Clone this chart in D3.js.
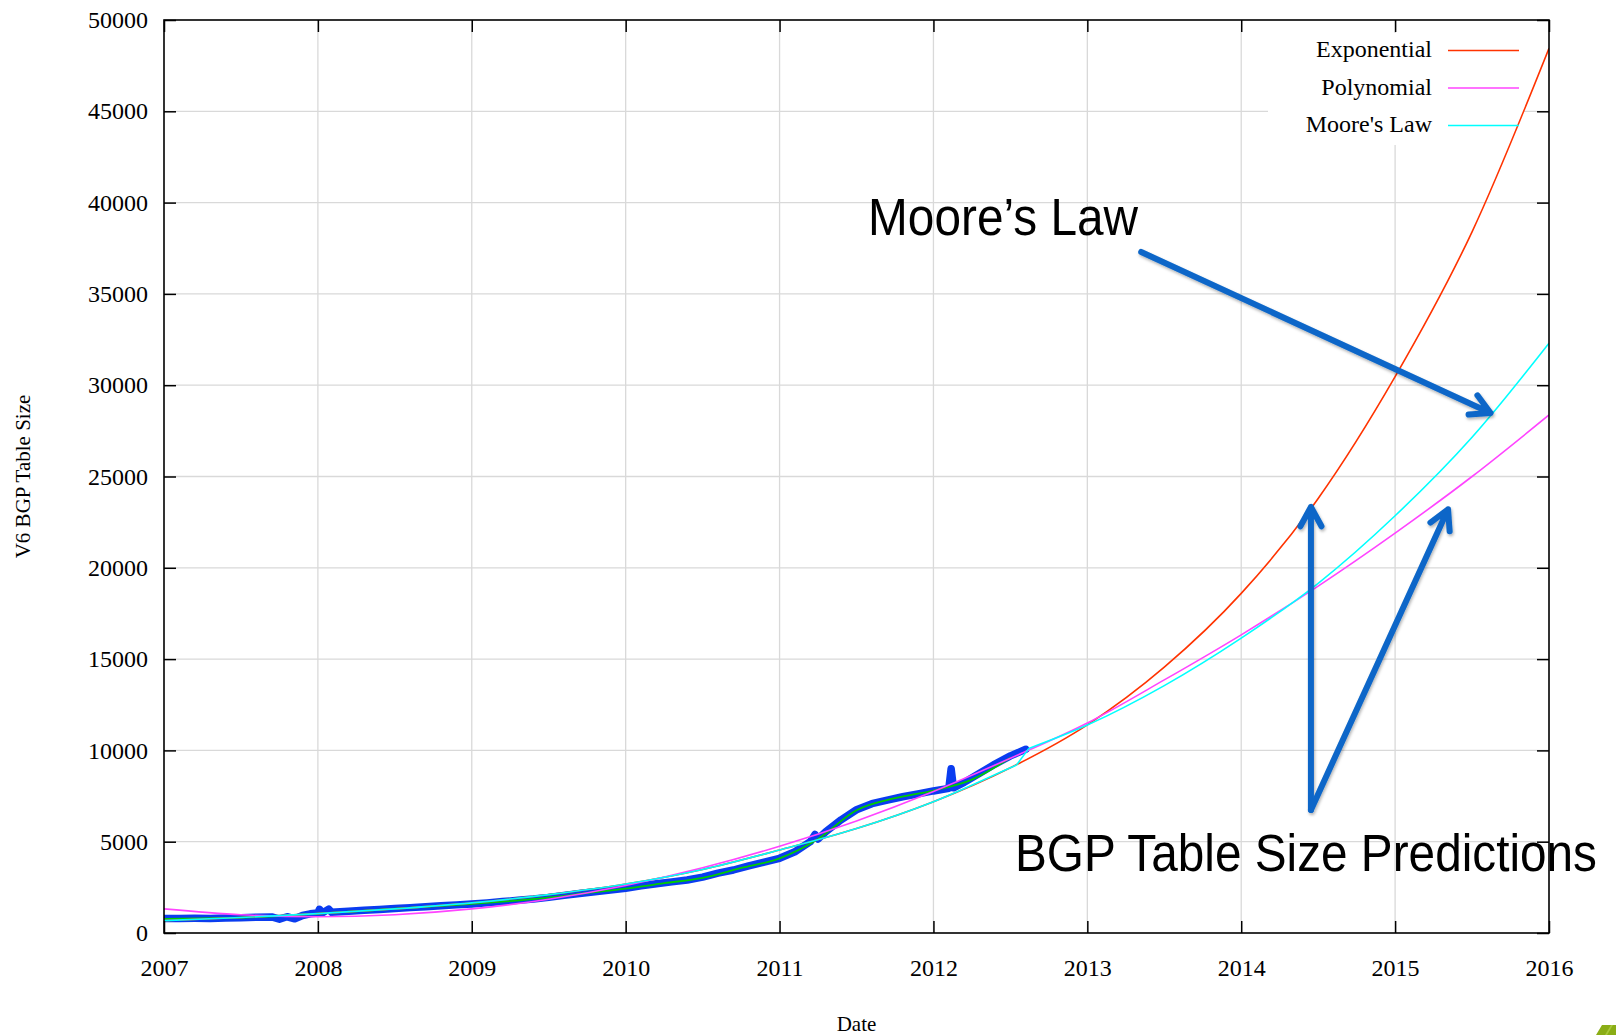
<!DOCTYPE html>
<html>
<head>
<meta charset="utf-8">
<script src="https://cdn.jsdelivr.net/npm/d3@7"></script>
<style>
  html, body { margin: 0; padding: 0; background: #fff; }
  svg { display: block; }
</style>
</head>
<body>
<svg id="chart" width="1616" height="1035"></svg>
<script>
// ---------- data ----------
const xTicks = [2007, 2008, 2009, 2010, 2011, 2012, 2013, 2014, 2015, 2016];
const yTicks = [0, 5000, 10000, 15000, 20000, 25000, 30000, 35000, 40000, 45000, 50000];

const dataYears = [2007.0, 2007.1, 2007.2, 2007.3, 2007.4, 2007.5, 2007.6, 2007.7, 2007.75, 2007.8, 2007.85, 2007.9, 2007.95,
  2008.0, 2008.01, 2008.03, 2008.07, 2008.09, 2008.2, 2008.3, 2008.4, 2008.5, 2008.6, 2008.7, 2008.8, 2008.9,
  2009.0, 2009.1, 2009.2, 2009.3, 2009.4, 2009.5, 2009.6, 2009.7, 2009.8, 2009.9,
  2010.0, 2010.1, 2010.2, 2010.3, 2010.4, 2010.5, 2010.6, 2010.7, 2010.8, 2010.9,
  2011.0, 2011.1, 2011.2, 2011.23, 2011.25, 2011.3, 2011.4, 2011.5, 2011.6, 2011.7, 2011.8, 2011.9,
  2012.0, 2012.1, 2012.115, 2012.13, 2012.2, 2012.3, 2012.4, 2012.5, 2012.6];
const dataValues = [790, 800, 805, 800, 820, 840, 860, 880, 760, 890, 780, 960, 1050,
  1090, 1300, 1100, 1310, 1130, 1190, 1240, 1290, 1340, 1390, 1440, 1490, 1540,
  1590, 1650, 1720, 1790, 1860, 1950, 2060, 2160, 2260, 2350,
  2450, 2580, 2700, 2800, 2900, 3060, 3280, 3450, 3680, 3880,
  4090, 4450, 5000, 5400, 5150, 5550, 6200, 6750, 7080, 7280, 7460, 7620,
  7780, 7920, 9000, 7950, 8250, 8750, 9250, 9700, 10060];

const trendYears = [2007, 2007.25, 2007.5, 2007.75, 2008, 2008.25, 2008.5, 2008.75, 2009, 2009.25, 2009.5, 2009.75,
  2010, 2010.25, 2010.5, 2010.75, 2011, 2011.25, 2011.5, 2011.75, 2012, 2012.25, 2012.5];
const trendValues = [770, 800, 845, 920, 1060, 1190, 1330, 1460, 1590, 1750, 1940, 2190,
  2430, 2730, 3020, 3560, 4090, 5150, 6720, 7380, 7800, 8400, 9600];

const expYears = [2007, 2007.5, 2008, 2008.5, 2009, 2009.5, 2010, 2010.5, 2011, 2011.5, 2012, 2012.5,
  2013, 2013.5, 2014, 2014.5, 2015, 2015.5, 2016];
const expValues = [680, 850, 1060, 1320, 1650, 2100, 2680, 3480, 4545, 5720, 7190, 9050,
  11400, 14560, 18600, 23800, 30470, 38400, 48450];

const polyYears = [2007, 2007.5, 2008, 2008.5, 2009, 2009.5, 2010, 2010.5, 2011, 2011.5, 2012, 2012.5,
  2013, 2013.5, 2014, 2014.5, 2015, 2015.5, 2016];
const polyValues = [1320, 1000, 890, 1000, 1320, 1850, 2600, 3570, 4750, 6140, 7750, 9570,
  11500, 13860, 16330, 19000, 21900, 25000, 28370];

// Moore's Law: fitted part (to end of data) and projection (from last data point)
const mooreFitYears = [2007, 2007.5, 2008, 2008.5, 2009, 2009.5, 2010, 2010.5, 2011, 2011.5, 2012, 2012.5, 2012.54];
const mooreFitValues = [680, 850, 1060, 1320, 1650, 2100, 2680, 3480, 4545, 5720, 7190, 9050, 9200];
const mooreProjYears = [2012.62, 2013, 2013.5, 2014, 2014.5, 2015, 2015.5, 2016];
const mooreProjValues = [10110, 11390, 13550, 16150, 19150, 22850, 27150, 32300];

const legendLabels = ["Exponential", "Polynomial", "Moore's Law"];
const legendColors = ["#ff3300", "#ff44ff", "#00ffff"];

const xLabel = "Date";
const yLabel = "V6 BGP Table Size";

// annotations (in data units)
const annoMoore = { text: "Moore\u2019s Law", x: 2011.575, y: 38225 };
const annoBGP = { text: "BGP Table Size Predictions", x: 2012.53, y: 3395 };
const arrows = [
  { x1: 2013.35, y1: 37295, x2: 2015.62, y2: 28480 },
  { x1: 2014.453, y1: 6740, x2: 2014.453, y2: 23330 },
  { x1: 2014.453, y1: 6740, x2: 2015.344, y2: 23200 }
];

// ---------- layout ----------
const L = 164, R = 1549, T = 20, B = 933;
const svg = d3.select("#chart");
const x = d3.scaleLinear().domain([2007, 2016]).range([L, R]);
const y = d3.scaleLinear().domain([0, 50000]).range([B, T]);

const serif = "'Liberation Serif', 'Times New Roman', serif";
const sans = "'Liberation Sans', Arial, Helvetica, sans-serif";

svg.append("rect").attr("width", 1616).attr("height", 1035).attr("fill", "#fff");

// defs
const defs = svg.append("defs");
const f = defs.append("filter").attr("id", "shadow").attr("x", "-20%").attr("y", "-20%").attr("width", "140%").attr("height", "140%");
f.append("feDropShadow").attr("dx", 1).attr("dy", 2).attr("stdDeviation", 1.5).attr("flood-color", "#000").attr("flood-opacity", 0.3);
defs.append("clipPath").attr("id", "plotclip").append("rect")
  .attr("x", L).attr("y", T).attr("width", R - L).attr("height", B - T);

// grid
const grid = svg.append("g").attr("stroke", "#d9d9d9").attr("stroke-width", 1.3);
grid.selectAll("line.gx").data(xTicks.slice(1, -1)).join("line")
  .attr("x1", d => x(d)).attr("x2", d => x(d)).attr("y1", T).attr("y2", B);
grid.selectAll("line.gy").data(yTicks.slice(1, -1)).join("line")
  .attr("x1", L).attr("x2", R).attr("y1", d => y(d)).attr("y2", d => y(d));

// legend background (opaque key box)
svg.append("rect").attr("x", 1268).attr("y", 33).attr("width", 256).attr("height", 112).attr("fill", "#fff");

// plot group
const plot = svg.append("g").attr("clip-path", "url(#plotclip)");
const pts = (xs, ys) => xs.map((v, i) => [v, ys[i]]);

const lineLin = d3.line().x(d => x(d[0])).y(d => y(d[1]));
const lineSmooth = d3.line().x(d => x(d[0])).y(d => y(d[1])).curve(d3.curveMonotoneX);

// data
plot.append("path").datum(pts(dataYears, dataValues))
  .attr("d", lineLin).attr("fill", "none").attr("stroke", "#0a3cf0")
  .attr("stroke-width", 7.5).attr("stroke-linecap", "round").attr("stroke-linejoin", "round");
plot.append("path").datum(pts(trendYears, trendValues))
  .attr("d", lineSmooth).attr("fill", "none").attr("stroke", "#00cc00").attr("stroke-width", 1.8);

// fits
plot.append("path").datum(pts(expYears, expValues))
  .attr("d", lineSmooth).attr("fill", "none").attr("stroke", legendColors[0]).attr("stroke-width", 1.6);
plot.append("path").datum(pts(polyYears, polyValues))
  .attr("d", lineSmooth).attr("fill", "none").attr("stroke", legendColors[1]).attr("stroke-width", 1.6);
const mooreFit = pts(mooreFitYears, mooreFitValues);
const mooreProj = pts(mooreProjYears, mooreProjValues);
plot.append("path").datum(mooreFit)
  .attr("d", lineSmooth).attr("fill", "none").attr("stroke", legendColors[2]).attr("stroke-width", 1.6);
plot.append("path").datum([mooreFit[mooreFit.length - 1], mooreProj[0]])
  .attr("d", lineLin).attr("fill", "none").attr("stroke", legendColors[2]).attr("stroke-width", 1.6);
plot.append("path").datum(mooreProj)
  .attr("d", lineSmooth).attr("fill", "none").attr("stroke", legendColors[2]).attr("stroke-width", 1.6);

// axes
const fmt = d3.format("d");
const gx = svg.append("g").attr("transform", `translate(0,${B})`)
  .call(d3.axisBottom(x).tickValues(xTicks).tickFormat(fmt).tickSize(-12).tickPadding(26));
const gy = svg.append("g").attr("transform", `translate(${L},0)`)
  .call(d3.axisLeft(y).tickValues(yTicks).tickFormat(fmt).tickSize(-12).tickPadding(16));
const gt = svg.append("g").attr("transform", `translate(0,${T})`)
  .call(d3.axisTop(x).tickValues(xTicks).tickFormat("").tickSize(-12));
const gr = svg.append("g").attr("transform", `translate(${R},0)`)
  .call(d3.axisRight(y).tickValues(yTicks).tickFormat("").tickSize(-12));
[gx, gy, gt, gr].forEach(g => {
  g.select(".domain").remove();
  g.selectAll(".tick line").attr("stroke", "#000").attr("stroke-width", 1.5);
  g.selectAll("text").attr("font-family", serif).attr("font-size", 24).attr("fill", "#000");
});

// border
svg.append("rect").attr("x", L).attr("y", T).attr("width", R - L).attr("height", B - T)
  .attr("fill", "none").attr("stroke", "#000").attr("stroke-width", 1.6);

// axis titles
svg.append("text").attr("x", (L + R) / 2).attr("y", 1031).attr("text-anchor", "middle")
  .attr("font-family", serif).attr("font-size", 21).text(xLabel);
svg.append("text").attr("transform", `translate(30,${(T + B) / 2}) rotate(-90)`).attr("text-anchor", "middle")
  .attr("font-family", serif).attr("font-size", 21).text(yLabel);

// legend
const legY = [49.5, 87, 124.5];
const leg = svg.append("g");
legendLabels.forEach((lab, i) => {
  leg.append("text").attr("x", 1432).attr("y", legY[i]).attr("dy", "0.32em").attr("text-anchor", "end")
    .attr("font-family", serif).attr("font-size", 24).text(lab);
  leg.append("line").attr("x1", 1448).attr("x2", 1519).attr("y1", legY[i] + 1).attr("y2", legY[i] + 1)
    .attr("stroke", legendColors[i]).attr("stroke-width", 1.6);
});

// annotations
svg.append("text").attr("x", x(annoMoore.x)).attr("y", y(annoMoore.y))
  .attr("font-family", sans).attr("font-size", 51).attr("textLength", 270).attr("lengthAdjust", "spacingAndGlyphs")
  .text(annoMoore.text);
svg.append("text").attr("x", x(annoBGP.x)).attr("y", y(annoBGP.y))
  .attr("font-family", sans).attr("font-size", 51).attr("textLength", 582).attr("lengthAdjust", "spacingAndGlyphs")
  .text(annoBGP.text);

const arrowG = svg.append("g").attr("filter", "url(#shadow)").attr("stroke", "#0a66c8").attr("stroke-width", 6)
  .attr("fill", "none").attr("stroke-linecap", "round").attr("stroke-linejoin", "round");
arrows.forEach(a => {
  const X1 = x(a.x1), Y1 = y(a.y1), X2 = x(a.x2), Y2 = y(a.y2);
  const ang = Math.atan2(Y2 - Y1, X2 - X1);
  const len = 22, spread = 0.5;
  const p1 = [X2 - len * Math.cos(ang - spread), Y2 - len * Math.sin(ang - spread)];
  const p2 = [X2 - len * Math.cos(ang + spread), Y2 - len * Math.sin(ang + spread)];
  arrowG.append("path").attr("d", `M${X1},${Y1}L${X2},${Y2}M${p1[0]},${p1[1]}L${X2},${Y2}L${p2[0]},${p2[1]}`);
});

// corner decoration
svg.append("polygon").attr("points", "1596,1035 1602,1025 1616,1025 1616,1035").attr("fill", "#8aad16");
svg.append("polygon").attr("points", "1605,1035 1611,1025 1613,1025 1607,1035").attr("fill", "#a8c83a");
</script>
</body>
</html>
